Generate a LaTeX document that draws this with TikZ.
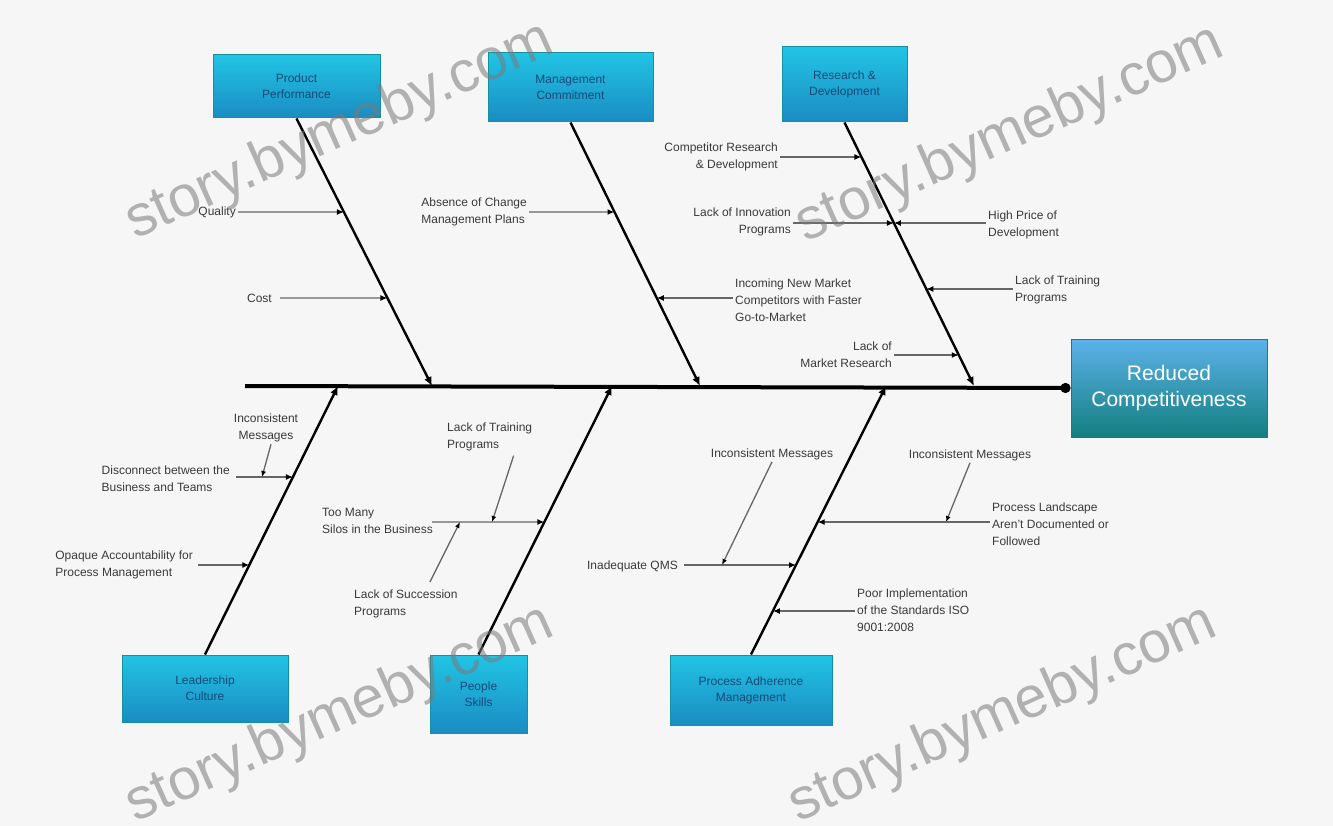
\documentclass[tikz,border=0pt]{standalone}
\usepackage{fontspec}
\setmainfont{Liberation Sans}
\usetikzlibrary{arrows.meta}
\definecolor{bg}{HTML}{F6F6F6}
\definecolor{boxtop}{HTML}{22C4E4}
\definecolor{boxbot}{HTML}{1A8CC2}
\definecolor{boxedge}{HTML}{14909E}
\definecolor{headtop}{HTML}{5DB2EA}
\definecolor{headbot}{HTML}{137F80}
\definecolor{txt}{HTML}{3A3A3A}
\definecolor{boxtxt}{HTML}{174A78}
\definecolor{wm}{HTML}{7A7A7A}
\begin{document}
\begin{tikzpicture}[x=1pt,y=-1pt,
  catbox/.style={draw=boxedge, line width=1pt, top color=boxtop, bottom color=boxbot,
    inner sep=0pt, align=center, font=\fontsize{12}{16}\selectfont, text=boxtxt},
  headbox/.style={draw=headbot, line width=1pt, top color=headtop, bottom color=headbot,
    inner sep=0pt, align=center, font=\fontsize{21}{26}\selectfont, text=white},
  lab/.style={font=\fontsize{12}{17}\selectfont, text=txt, inner sep=2pt},
  spine/.style={line width=4pt, black, -{Circle[length=10pt]}},
  bone/.style={line width=2.4pt, black, -{Latex[length=9pt,width=8pt]}},
  sub/.style={line width=1.3pt, black!60, -{Latex[length=7pt,width=6pt,color=black]}},
  sub2/.style={line width=1.3pt, black!60, -{Latex[length=6pt,width=5pt,color=black]}},
  wmark/.style={font=\fontsize{58}{58}\selectfont, text=wm, opacity=0.55, rotate=24}
]
\useasboundingbox[fill=bg] (0,0) rectangle (1333,826);

% category boxes
\node[catbox, minimum width=167pt, minimum height=63pt] (box1) at (296.5,86.5) {Product\\Performance};
\node[catbox, minimum width=165pt, minimum height=69pt] (box2) at (570.5,87.5) {Management\\Commitment};
\node[catbox, minimum width=125pt, minimum height=75pt] (box3) at (844.5,84.5) {Research \&\\Development};
\node[catbox, minimum width=166pt, minimum height=67pt] (box4) at (205,688.5) {Leadership\\Culture};
\node[catbox, minimum width=97pt, minimum height=78pt] (box5) at (478.5,694) {People\\Skills};
\node[catbox, minimum width=162pt, minimum height=70pt] (box6) at (751,690) {Process Adherence\\Management};
\node[headbox, minimum width=196pt, minimum height=98pt] (head) at (1169,388) {Reduced\\Competitiveness};

% spine
\coordinate (tail) at (245,386);
\draw[spine] (tail) -- (head.west);

% bone ends on spine
\coordinate (t1) at (432,386);
\coordinate (t2) at (700,386);
\coordinate (t3) at (974,386);
\coordinate (t4) at (338,386);
\coordinate (t5) at (612,386);
\coordinate (t6) at (886,386);
\draw[bone] (box1.south) -- (t1);
\draw[bone] (box2.south) -- (t2);
\draw[bone] (box3.south) -- (t3);
\draw[bone] (box4.north) -- (t4);
\draw[bone] (box5.north) -- (t5);
\draw[bone] (box6.north) -- (t6);

% points on bones
\coordinate (c1a) at (intersection of box1.south--t1 and 0,212--10,212);
\coordinate (c1b) at (intersection of box1.south--t1 and 0,298--10,298);
\coordinate (c2a) at (intersection of box2.south--t2 and 0,212--10,212);
\coordinate (c2b) at (intersection of box2.south--t2 and 0,298--10,298);
\coordinate (c3a) at (intersection of box3.south--t3 and 0,157--10,157);
\coordinate (c3b) at (intersection of box3.south--t3 and 0,223--10,223);
\coordinate (c3d) at (intersection of box3.south--t3 and 0,289--10,289);
\coordinate (c3e) at (intersection of box3.south--t3 and 0,355--10,355);
\coordinate (c4a) at (intersection of box4.north--t4 and 0,477--10,477);
\coordinate (c4c) at (intersection of box4.north--t4 and 0,565--10,565);
\coordinate (c5a) at (intersection of box5.north--t5 and 0,522--10,522);
\coordinate (c6a) at (intersection of box6.north--t6 and 0,565--10,565);
\coordinate (c6b) at (intersection of box6.north--t6 and 0,522--10,522);
\coordinate (c6c) at (intersection of box6.north--t6 and 0,611--10,611);

% top 1
\node[lab, anchor=east] (qual) at (238,212) {Quality};
\draw[sub] (qual.east) -- (c1a);
\node[lab, anchor=east, inner xsep=8pt] (cost) at (280,298) {Cost};
\draw[sub] (cost.east) -- (c1b);

% top 2
\node[lab, anchor=east, align=left] (abs) at (529,212) {Absence of Change\\Management Plans};
\draw[sub] (abs.east) -- (c2a);
\node[lab, anchor=west, align=left] (inc) at (733,300) {Incoming New Market\\Competitors with Faster\\Go-to-Market};
\draw[sub] (inc.west |- c2b) -- (c2b);

% top 3
\node[lab, anchor=east, align=right] (comp) at (780,157) {Competitor Research\\\& Development};
\draw[sub] (comp.east |- c3a) -- (c3a);
\node[lab, anchor=east, align=right] (inn) at (793,222) {Lack of Innovation\\Programs};
\draw[sub] (inn.east |- c3b) -- (c3b);
\node[lab, anchor=west, align=left] (high) at (986,225) {High Price of\\Development};
\draw[sub] (high.west |- c3b) -- (c3b);
\node[lab, anchor=west, align=left] (ltr) at (1013,290) {Lack of Training\\Programs};
\draw[sub] (ltr.west |- c3d) -- (c3d);
\node[lab, anchor=east, align=right] (mkt) at (894,355) {Lack of\\Market Research};
\draw[sub] (mkt.east |- c3e) -- (c3e);

% bottom 1
\node[lab, anchor=east, align=left, inner xsep=6pt] (disc) at (236,479) {Disconnect between the\\Business and Teams};
\draw[sub] (disc.east |- c4a) -- (c4a);
\node[lab, align=center] (incm) at (266,428) {Inconsistent\\Messages};
\coordinate (j4) at (262,477);
\draw[sub2] ([xshift=5pt]incm.south) -- (j4);
\node[lab, anchor=east, align=left, inner xsep=5pt] (opq) at (198,565) {Opaque Accountability for\\Process Management};
\draw[sub] (opq.east |- c4c) -- (c4c);

% bottom 2
\node[lab, anchor=west, align=left] (silo) at (320,521) {Too Many\\Silos in the Business};
\coordinate (j5) at (432,522);
\draw[sub] (j5) -- (c5a);
\node[lab, anchor=north west, align=left] (ltp) at (445,421) {Lack of Training\\Programs};
\coordinate (k5a) at (492,522);
\draw[sub2] ([xshift=24pt,yshift=-2pt]ltp.south) -- (k5a);
\node[lab, anchor=north west, align=left] (lsp) at (352,588) {Lack of Succession\\Programs};
\coordinate (k5b) at (460,522);
\draw[sub2] ([xshift=24pt,yshift=6pt]lsp.north) -- (k5b);

% bottom 3
\node[lab, anchor=east, inner xsep=6pt] (inq) at (684,566) {Inadequate QMS};
\draw[sub] (inq.east |- c6a) -- (c6a);
\node[lab] (im6) at (772,454) {Inconsistent Messages};
\coordinate (k6a) at (722,565);
\draw[sub2] (im6.south) -- (k6a);
\node[lab] (im6b) at (970,455) {Inconsistent Messages};
\coordinate (k6b) at (946,522);
\draw[sub2] (im6b.south) -- (k6b);
\node[lab, anchor=west, align=left] (proc) at (990,524) {Process Landscape\\Aren't Documented or\\Followed};
\draw[sub] (proc.west |- c6b) -- (c6b);
\node[lab, anchor=west, align=left] (poor) at (855,610) {Poor Implementation\\of the Standards ISO\\9001:2008};
\draw[sub] (poor.west |- c6c) -- (c6c);

% watermarks
\node[wmark] (wm1) at (340,132) {story.bymeby.com};
\node[wmark] (wm2) at (1010,135) {story.bymeby.com};
\node[wmark] (wm3) at (340,715) {story.bymeby.com};
\node[wmark] (wm4) at (1003,715) {story.bymeby.com};
\end{tikzpicture}
\end{document}
